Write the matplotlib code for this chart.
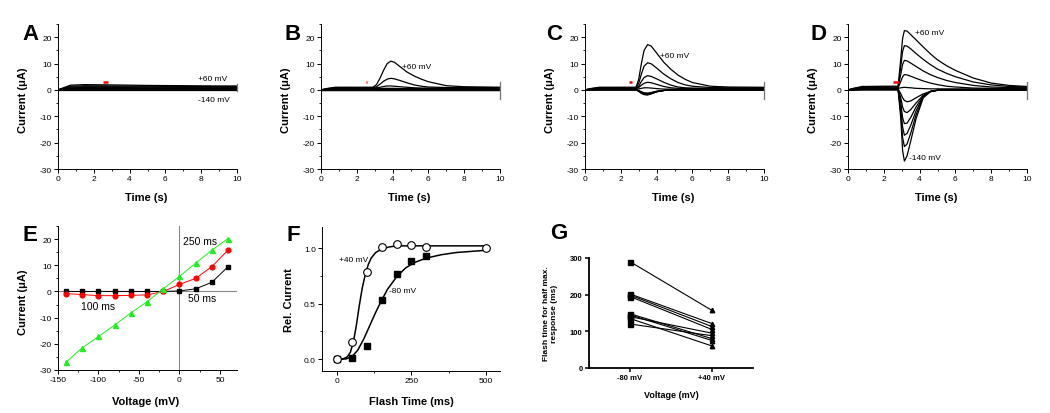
import matplotlib
matplotlib.use("Agg")
import matplotlib.pyplot as plt
from matplotlib.ticker import MultipleLocator, FormatStrFormatter

plt.rcParams["font.family"] = ["Liberation Sans", "DejaVu Sans"]
plt.rcParams["axes.unicode_minus"] = False

W, H = 1050, 414

# ---------------- data: current traces (A-D) ----------------
# voltages +60 .. -140 mV, top to bottom
time_a = [0, 0.3, 0.7, 1.5, 3, 5, 7, 9, 10]
a_traces = [
    [0, 0.8, 1.8, 2.0, 1.9, 1.7, 1.6, 1.5, 1.5],
    [0, 0.6, 1.4, 1.6, 1.5, 1.4, 1.3, 1.2, 1.2],
    [0, 0.5, 1.1, 1.2, 1.2, 1.1, 1.0, 1.0, 1.0],
    [0, 0.4, 0.8, 0.9, 0.9, 0.8, 0.8, 0.7, 0.7],
    [0, 0.3, 0.5, 0.6, 0.6, 0.6, 0.5, 0.5, 0.5],
    [0, 0.2, 0.3, 0.4, 0.4, 0.4, 0.4, 0.3, 0.3],
    [0, 0.1, 0.2, 0.3, 0.3, 0.3, 0.2, 0.2, 0.2],
    [0, 0.1, 0.1, 0.1, 0.1, 0.1, 0.1, 0.1, 0.1],
    [0, 0, 0, 0, 0, 0, 0, 0, 0],
]

time_flat = [0, 0.3, 0.8, 10]
flat_traces = [
    [0, 0.1, 0.3, 0.3],
    [0, 0.1, 0.2, 0.2],
    [0, 0.05, 0.1, 0.1],
    [0, 0, 0.05, 0.05],
    [0, 0, 0, 0],
    [0, 0, 0, 0],
]

time_b = [0, 0.3, 0.8, 2.0, 2.9, 3.1, 3.3, 3.5, 3.7, 3.9, 4.1, 4.4, 4.8, 5.2, 5.6, 6.0, 7.0, 8.0, 10.0]
b_traces = [
    [0, 0.5, 1.0, 1.0, 1.0, 2.0, 4.5, 7.5, 10.0, 10.9, 10.5, 8.9, 6.8, 5.3, 4.1, 3.1, 1.6, 1.2, 1.0],
    [0, 0.4, 0.9, 0.9, 0.9, 1.2, 2.2, 3.3, 4.1, 4.4, 4.2, 3.6, 2.7, 1.9, 1.4, 1.1, 0.9, 0.9, 0.9],
    [0, 0.3, 0.7, 0.7, 0.7, 0.8, 1.0, 1.3, 1.5, 1.5, 1.4, 1.2, 1.0, 0.8, 0.7, 0.7, 0.7, 0.7, 0.7],
    [0, 0.2, 0.5, 0.5, 0.5, 0.5, 0.5, 0.6, 0.6, 0.6, 0.6, 0.5, 0.5, 0.5, 0.5, 0.5, 0.5, 0.5, 0.5],
]

time_c = [0, 0.3, 0.8, 2.0, 2.85, 3.0, 3.15, 3.3, 3.5, 3.7, 4.0, 4.4, 4.8, 5.2, 5.6, 6.0, 7.0, 8.0, 10.0]
c_traces = [
    [0, 0.5, 1.0, 1.0, 1.0, 4.0, 10.0, 15.0, 17.2, 16.6, 14.0, 10.5, 7.8, 5.6, 4.0, 2.8, 1.4, 1.1, 1.0],
    [0, 0.4, 0.9, 0.9, 0.9, 2.5, 6.0, 9.0, 10.3, 9.9, 8.3, 6.0, 4.2, 2.8, 1.9, 1.4, 0.9, 0.8, 0.8],
    [0, 0.3, 0.7, 0.7, 0.7, 1.4, 3.2, 4.7, 5.4, 5.1, 4.2, 2.9, 1.8, 1.1, 0.8, 0.7, 0.6, 0.6, 0.6],
    [0, 0.2, 0.5, 0.5, 0.5, 0.9, 1.8, 2.5, 2.9, 2.7, 2.1, 1.3, 0.8, 0.6, 0.5, 0.5, 0.5, 0.5, 0.5],
    [0, 0.1, 0.3, 0.3, 0.3, 0.4, 0.6, 0.8, 0.8, 0.7, 0.5, 0.3, 0.3, 0.3, 0.3, 0.3, 0.3, 0.3, 0.3],
    [0, 0.1, 0.2, 0.2, 0.2, -0.2, -0.7, -1.1, -1.2, -1.0, -0.5, -0.2, 0, 0, 0, 0, 0, 0, 0],
    [0, 0.1, 0.1, 0.1, 0.1, -0.3, -0.9, -1.3, -1.4, -1.1, -0.6, -0.2, 0, 0, 0, 0, 0, 0, 0],
    [0, 0, 0.1, 0.1, 0.1, -0.4, -1.0, -1.5, -1.6, -1.3, -0.6, -0.2, 0, 0, 0, 0, 0, 0, 0],
    [0, 0, 0.1, 0.1, 0.1, -0.4, -1.1, -1.6, -1.7, -1.3, -0.7, -0.2, 0, 0, 0, 0, 0, 0, 0],
    [0, 0, 0, 0, 0, -0.4, -1.2, -1.7, -1.8, -1.4, -0.7, -0.2, 0, 0, 0, 0, 0, 0, 0],
    [0, 0, 0, 0, 0, -0.5, -1.3, -1.8, -1.9, -1.5, -0.7, -0.2, 0, 0, 0, 0, 0, 0, 0],
]

time_d = [0, 0.3, 0.8, 2.0, 2.8, 2.95, 3.05, 3.15, 3.3, 3.5, 3.8, 4.2, 4.6, 5.0, 5.5, 6.0, 7.0, 8.0, 9.0, 10.0]
d_traces = [
    [0, 0.6, 1.3, 1.4, 1.4, 12.0, 19.5, 22.5, 22.3, 21.0, 19.0, 16.3, 13.7, 11.4, 9.2, 7.4, 4.5, 2.6, 1.7, 1.3],
    [0, 0.5, 1.1, 1.2, 1.2, 9.0, 14.6, 16.8, 16.6, 15.6, 13.8, 11.6, 9.6, 7.9, 6.3, 5.0, 3.0, 1.9, 1.3, 1.1],
    [0, 0.4, 0.9, 1.0, 1.0, 6.0, 9.7, 11.2, 11.0, 10.2, 8.9, 7.2, 5.8, 4.7, 3.6, 2.8, 1.7, 1.1, 0.9, 0.8],
    [0, 0.3, 0.7, 0.8, 0.8, 3.2, 5.0, 5.8, 5.7, 5.2, 4.4, 3.4, 2.6, 2.0, 1.4, 1.1, 0.7, 0.6, 0.6, 0.6],
    [0, 0.2, 0.5, 0.6, 0.6, 0.8, 0.9, 1.0, 0.9, 0.8, 0.6, 0.5, 0.4, 0.4, 0.4, 0.4, 0.4, 0.4, 0.4, 0.4],
    [0, 0.1, 0.3, 0.4, 0.4, -1.5, -3.0, -4.0, -4.5, -4.2, -3.0, -1.5, -0.6, -0.2, 0, 0, 0, 0, 0, 0],
    [0, 0.1, 0.2, 0.3, 0.3, -3.0, -6.5, -8.2, -8.6, -7.5, -5.0, -2.0, -0.6, -0.1, 0, 0, 0, 0, 0, 0],
    [0, 0.1, 0.2, 0.2, 0.2, -5.0, -10.5, -12.8, -12.6, -10.5, -6.5, -2.3, -0.6, -0.1, 0, 0, 0, 0, 0, 0],
    [0, 0, 0.1, 0.1, 0.1, -7.0, -14.0, -17.2, -16.5, -13.5, -8.0, -2.5, -0.6, -0.1, 0, 0, 0, 0, 0, 0],
    [0, 0, 0.1, 0.1, 0.1, -9.0, -18.0, -21.5, -20.5, -16.5, -9.5, -2.8, -0.6, -0.1, 0, 0, 0, 0, 0, 0],
    [0, 0, 0, 0, 0, -11.0, -23.0, -27.0, -25.0, -19.5, -11.0, -3.0, -0.7, -0.1, 0, 0, 0, 0, 0, 0],
]

# red flash bars (time span, level) and the step-off mark at t = 10 s
flash_a, flash_b, flash_c, flash_d = [2.5, 2.8], [2.5, 2.58], [2.45, 2.6], [2.5, 2.85]
flash_level = 3.0
end_a, end_bcd = [-0.4, 2.4], [-3.5, 3.0]

# ---------------- data: panel E (I-V) ----------------
volts = [-140, -120, -100, -80, -60, -40, -20, 0, 20, 40, 60]
iv_50 = [0, 0, 0, 0, 0, 0, 0, 0.2, 1.0, 3.5, 9.5]
iv_100 = [-0.8, -1.2, -1.6, -1.6, -1.5, -1.3, 0, 2.7, 5.0, 9.5, 15.8]
iv_250 = [-27.0, -21.5, -17.2, -12.8, -8.2, -3.9, 1.0, 5.8, 10.8, 15.8, 20.2]

# ---------------- data: panel F (flash duration) ----------------
flash_ms_pos = [0, 50, 100, 150, 200, 250, 300, 500]
rel_pos = [0, 0.15, 0.78, 1.01, 1.04, 1.03, 1.01, 1.0]
flash_ms_neg = [0, 50, 100, 150, 200, 250, 300]
rel_neg = [0, 0.01, 0.12, 0.53, 0.77, 0.88, 0.93]
fit_x_pos = [0, 20, 35, 45, 55, 65, 75, 85, 95, 105, 115, 130, 150, 175, 200, 250, 300, 400, 500]
fit_y_pos = [0, 0, 0.02, 0.06, 0.15, 0.3, 0.48, 0.64, 0.76, 0.85, 0.91, 0.96, 0.99, 1.01, 1.02, 1.02, 1.02, 1.02, 1.02]
fit_x_neg = [0, 30, 50, 70, 90, 110, 130, 150, 170, 200, 230, 260, 300, 350, 400, 450, 500]
fit_y_neg = [0, 0, 0.02, 0.08, 0.18, 0.3, 0.42, 0.53, 0.63, 0.74, 0.82, 0.87, 0.91, 0.94, 0.96, 0.97, 0.98]

# ---------------- data: panel G (paired cells) ----------------
g_labels = ["-80 mV", "+40 mV"]
half_max_m80 = [290, 202, 199, 195, 148, 145, 140, 135, 120]
half_max_p40 = [157, 121, 113, 105, 80, 75, 95, 60, 88]

TICK_FS = 6
LABEL_FS = 8
NOTE_FS = 6


def px_axes(fig, left, top, right, bottom):
    return fig.add_axes([left / W, 1 - bottom / H, (right - left) / W, (bottom - top) / H])


def origin_style(ax):
    for s in ["top", "right"]:
        ax.spines[s].set_visible(False)
    for s in ["left", "bottom"]:
        ax.spines[s].set_linewidth(0.7)
    ax.tick_params(which="major", direction="out", length=3, width=0.7, labelsize=TICK_FS, pad=1.5)
    ax.tick_params(which="minor", direction="out", length=1.6, width=0.6)


fig = plt.figure(figsize=(W / 100, H / 100), dpi=100)

# ---------------- A-D ----------------
trace_panels = [
    ("A", 58, 22, time_a, a_traces, False, flash_a, end_a),
    ("B", 321, 285, time_b, b_traces, True, flash_b, end_bcd),
    ("C", 585, 546, time_c, c_traces, False, flash_c, end_bcd),
    ("D", 848, 810, time_d, d_traces, False, flash_d, end_bcd),
]
for letter, left, letter_x, tt, traces, add_flat, flash, endmark in trace_panels:
    ax = px_axes(fig, left, 25, left + 179, 170)
    origin_style(ax)
    if add_flat:
        for tr in flat_traces:
            ax.plot(time_flat, tr, color="black", lw=0.9)
    for tr in traces:
        ax.plot(tt, tr, color="black", lw=0.9)
    ax.plot(flash, [flash_level, flash_level], color="red", lw=1.8, solid_capstyle="butt")
    ax.plot([10, 10], endmark, color="#777777", lw=0.9, clip_on=False)
    ax.set_xlim(0, 10)
    ax.set_ylim(-30, 25)
    ax.set_xticks([0, 2, 4, 6, 8, 10])
    ax.set_yticks([-30, -20, -10, 0, 10, 20])
    ax.xaxis.set_minor_locator(MultipleLocator(1))
    ax.yaxis.set_minor_locator(MultipleLocator(5))
    ax.set_xlabel("Time (s)", fontsize=LABEL_FS, fontweight="bold")
    ax.set_ylabel("Current (μA)", fontsize=LABEL_FS, fontweight="bold")
    ax.xaxis.set_label_coords(0.49, -0.16)
    ax.yaxis.set_label_coords(-0.165, 0.48)
    fig.text(letter_x / W, 1 - 40 / H, letter, fontsize=16, fontweight="bold", va="baseline")
    if letter == "A":
        ax.text(7.8, 4.5, "+60 mV", fontsize=NOTE_FS, va="center")
        ax.text(7.8, -3.6, "-140 mV", fontsize=NOTE_FS, va="center")
    elif letter == "B":
        ax.text(4.55, 9.0, "+60 mV", fontsize=NOTE_FS, va="center")
    elif letter == "C":
        ax.text(4.2, 13.0, "+60 mV", fontsize=NOTE_FS, va="center")
    else:
        ax.text(3.75, 21.7, "+60 mV", fontsize=NOTE_FS, va="center")
        ax.text(3.4, -25.6, "-140 mV", fontsize=NOTE_FS, va="center")

# ---------------- E ----------------
ax = px_axes(fig, 58, 227, 237, 371)
origin_style(ax)
ax.axhline(0, color="#888888", lw=0.8, zorder=1)
ax.axvline(0, color="#888888", lw=0.8, zorder=1)
ax.plot(volts, iv_50, color="black", lw=0.7, marker="s", ms=3.2)
ax.plot(volts, iv_100, color="red", lw=0.7, marker="o", ms=3.4)
ax.plot(volts, iv_250, color="#22ee22", lw=0.7, marker="^", ms=3.6)
ax.set_xlim(-150, 71)
ax.set_ylim(-30, 25)
ax.set_xticks([-150, -100, -50, 0, 50])
ax.set_yticks([-30, -20, -10, 0, 10, 20])
ax.xaxis.set_minor_locator(MultipleLocator(25))
ax.yaxis.set_minor_locator(MultipleLocator(5))
ax.set_xlabel("Voltage (mV)", fontsize=LABEL_FS, fontweight="bold")
ax.set_ylabel("Current (μA)", fontsize=LABEL_FS, fontweight="bold")
ax.xaxis.set_label_coords(0.49, -0.18)
ax.yaxis.set_label_coords(-0.165, 0.48)
ax.text(4, 19.3, "250 ms", fontsize=7.5, va="center")
ax.text(-121, -5.6, "100 ms", fontsize=7.5, va="center")
ax.text(11, -2.6, "50 ms", fontsize=7.5, va="center")
fig.text(22 / W, 1 - 241 / H, "E", fontsize=16, fontweight="bold", va="baseline")

# ---------------- F ----------------
ax = px_axes(fig, 322, 228, 500, 372)
origin_style(ax)
ax.plot(fit_x_pos, fit_y_pos, color="black", lw=1.1)
ax.plot(fit_x_neg, fit_y_neg, color="black", lw=1.1)
ax.plot(flash_ms_neg, rel_neg, ls="none", marker="s", ms=5, color="black")
ax.plot(flash_ms_pos, rel_pos, ls="none", marker="o", ms=5.5, mfc="white", mec="black", mew=0.8)
ax.set_xlim(-50, 547)
ax.set_ylim(-0.108, 1.19)
ax.set_xticks([0, 250, 500])
ax.set_yticks([0.0, 0.5, 1.0])
ax.yaxis.set_major_formatter(FormatStrFormatter("%.1f"))
ax.xaxis.set_minor_locator(MultipleLocator(125))
ax.yaxis.set_minor_locator(MultipleLocator(0.25))
ax.set_xlabel("Flash Time (ms)", fontsize=LABEL_FS, fontweight="bold")
ax.set_ylabel("Rel. Current", fontsize=LABEL_FS, fontweight="bold")
ax.xaxis.set_label_coords(0.5, -0.175)
ax.yaxis.set_label_coords(-0.16, 0.5)
ax.text(7, 0.9, "+40 mV", fontsize=NOTE_FS, va="center")
ax.text(175, 0.62, "-80 mV", fontsize=NOTE_FS, va="center")
fig.text(287 / W, 1 - 241 / H, "F", fontsize=16, fontweight="bold", va="baseline")

# ---------------- G ----------------
ax = px_axes(fig, 589, 259, 753, 369)
for s in ["top", "right"]:
    ax.spines[s].set_visible(False)
for s in ["left", "bottom"]:
    ax.spines[s].set_linewidth(1.3)
for y0, y1 in zip(half_max_m80, half_max_p40):
    ax.plot([0, 1], [y0, y1], color="black", lw=0.8)
ax.plot([0] * len(half_max_m80), half_max_m80, ls="none", marker="s", ms=3.6, color="black")
ax.plot([1] * len(half_max_p40), half_max_p40, ls="none", marker="^", ms=3.2, color="black")
ax.set_xlim(-0.5, 1.5)
ax.set_ylim(0, 300)
ax.set_xticks([0, 1])
ax.set_xticklabels(g_labels)
ax.set_yticks([0, 100, 200, 300])
ax.tick_params(direction="out", length=3, width=1.1, labelsize=5.5, pad=1.5)
for lab in ax.get_xticklabels() + ax.get_yticklabels():
    lab.set_fontweight("bold")
ax.set_xlabel("Voltage (mV)", fontsize=6.5, fontweight="bold")
ax.set_ylabel("Flash time for half max.\nresponse (ms)", fontsize=6, fontweight="bold", linespacing=1.1)
ax.xaxis.set_label_coords(0.5, -0.2)
ax.yaxis.set_label_coords(-0.19, 0.5)
fig.text(550 / W, 1 - 239 / H, "G", fontsize=16, fontweight="bold", va="baseline")

plt.savefig("out.png", dpi=100)
